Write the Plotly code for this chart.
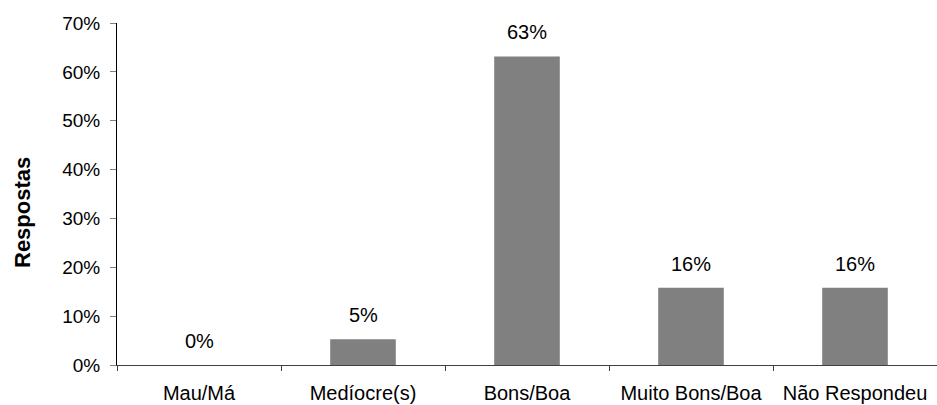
import plotly.graph_objects as go

categories = ["Mau/Má", "Medíocre(s)", "Bons/Boa", "Muito Bons/Boa", "Não Respondeu"]
values = [0.0, 0.0526, 0.6316, 0.1579, 0.1579]
value_labels = ["0%", "5%", "63%", "16%", "16%"]
y_ticks = [0, 0.1, 0.2, 0.3, 0.4, 0.5, 0.6, 0.7]
y_title = "Respostas"

FONT = "Liberation Sans, Arial, sans-serif"

fig = go.Figure()
fig.add_trace(go.Bar(
    x=categories, y=values, width=0.4,
    marker=dict(color="#808080", line=dict(width=0)),
    hoverinfo="skip",
))

for c, v, t in zip(categories, values, value_labels):
    fig.add_annotation(x=c, y=v, text=t, showarrow=False, yanchor="middle",
                       yshift=24, font=dict(family=FONT, size=20, color="#000"))

# y-axis title (placed slightly below the plot's centre as in the reference)
fig.add_annotation(xref="paper", yref="paper", x=-0.116, y=0.447, text="<b>" + y_title + "</b>",
                   textangle=-90, showarrow=False, xanchor="center", yanchor="middle",
                   font=dict(family=FONT, size=22, color="#000"))

fig.update_layout(
    width=937, height=405,
    margin=dict(l=117, r=0, t=23, b=40, autoexpand=False),
    paper_bgcolor="white", plot_bgcolor="white",
    showlegend=False,
    font=dict(family=FONT, size=20, color="#000"),
    bargap=0.6,
)
fig.update_xaxes(
    type="category", showgrid=False, showline=True, linecolor="#404040", linewidth=1,
    ticks="outside", tickson="boundaries", ticklen=5, tickcolor="#404040",
    ticklabelstandoff=10,
    tickfont=dict(family=FONT, size=20, color="#000"),
)
fig.update_yaxes(
    range=[0, 0.7], tickvals=y_ticks, tickformat=".0%", showgrid=False, zeroline=False,
    showline=True, linecolor="#000", linewidth=1,
    ticks="outside", ticklen=6, tickcolor="#808080",
    ticklabelstandoff=6,
    tickfont=dict(family=FONT, size=19, color="#000"),
)

fig.write_html("out.html", config={"displayModeBar": False},
               post_script="document.body.style.margin='0';")
